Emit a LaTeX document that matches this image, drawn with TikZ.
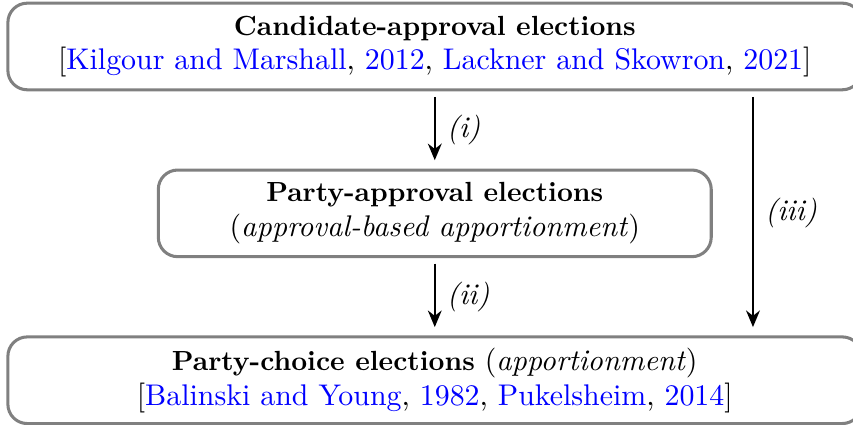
\documentclass[tikz,border=0pt]{standalone}
\usepackage{amsmath}
\usepackage{xcolor}
\usetikzlibrary{arrows.meta, positioning}
\definecolor{citeblue}{RGB}{0,0,255}
\newcommand{\citeref}[1]{\textcolor{citeblue}{#1}}
\newcommand{\headline}[1]{{\fontsize{10}{12.5}\selectfont\textbf{#1}}}

\begin{document}
\begin{tikzpicture}[
  node distance=0.98cm,
  frame/.style={draw=gray, line width=1.1pt, rounded corners=7pt,
                align=center, minimum height=1.10cm, inner sep=2pt,
                font=\fontsize{10.8}{12.5}\selectfont},
  arr/.style={-{Stealth[length=6pt, width=5pt]}, line width=0.7pt,
              shorten <=2pt, shorten >=3pt},
  tag/.style={font=\fontsize{10.8}{13}\selectfont\itshape, right, inner sep=4pt},
]
\useasboundingbox (0,0) rectangle (10.83,-5.39);

% Top: candidate-approval
\node[frame, minimum width=10.84cm] (cand) at (5.52,-0.59)
  {\headline{Candidate-approval elections}\\[0pt]
   [\citeref{Kilgour and Marshall}, \citeref{2012}, \citeref{Lackner and Skowron}, \citeref{2021}]};

% Middle: party-approval
\node[frame, minimum width=7.02cm, below=of cand] (party)
  {\headline{Party-approval elections}\\[0pt]
   (\textit{approval-based apportionment})};

% Bottom: party-choice
\node[frame, minimum width=10.84cm, below=of party] (choice)
  {\headline{Party-choice elections} (\textit{apportionment})\\[0pt]
   [\citeref{Balinski and Young}, \citeref{1982}, \citeref{Pukelsheim}, \citeref{2014}]};

% Reductions
\coordinate (side) at (9.56,0);
\draw[arr] (cand) -- node[tag]{(i)} (party);
\draw[arr] (party) -- node[tag]{(ii)} (choice);
\draw[arr] (cand.south -| side) -- node[tag]{(iii)} (choice.north -| side);

\end{tikzpicture}
\end{document}
